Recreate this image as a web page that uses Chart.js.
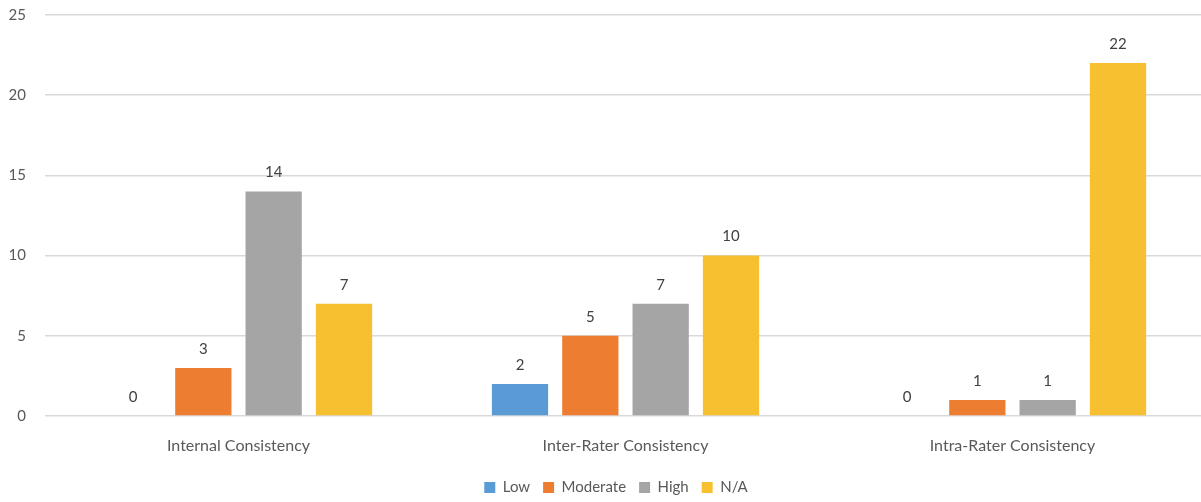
<!DOCTYPE html>
<html>
<head>
<meta charset="utf-8">
<script src="https://cdn.jsdelivr.net/npm/chart.js"></script>
<style>
    html, body { margin: 0; padding: 0; background: #ffffff; overflow: hidden; }
    #wrap { width: 1201px; height: 502px; overflow: hidden; }
    canvas { display: block; }
</style>
</head>
<body>
<div id="wrap"><canvas id="ratingChart" width="1207" height="505"></canvas></div>
<script>
    // Categories and counts per rating level
    const categories = ["Internal Consistency", "Inter-Rater Consistency", "Intra-Rater Consistency"];
    const lowCounts = [0, 2, 0];
    const moderateCounts = [3, 5, 1];
    const highCounts = [14, 7, 1];
    const naCounts = [7, 10, 22];
    const yTicks = [0, 5, 10, 15, 20, 25];

    const FONT = "Lato, 'Open Sans', sans-serif";
    const TEXT_GREY = "#595959";

    // Draw the count above each bar (zero bars get a label too)
    const valueLabels = {
        id: 'valueLabels',
        afterDatasetsDraw(chart) {
            const ctx = chart.ctx;
            ctx.save();
            ctx.font = "15px " + FONT;
            ctx.fillStyle = "#404040";
            ctx.textAlign = "center";
            ctx.textBaseline = "middle";
            chart.data.datasets.forEach((ds, i) => {
                const meta = chart.getDatasetMeta(i);
                meta.data.forEach((bar, j) => {
                    ctx.fillText(String(ds.data[j]), bar.x, bar.y - 19);
                });
            });
            ctx.restore();
        }
    };

    // Legend sits a little right of the canvas centre
    const legendShift = {
        id: 'legendShift',
        afterLayout(chart) {
            chart.legend.left += 9;
            chart.legend.right += 9;
        }
    };

    const ctx = document.getElementById("ratingChart").getContext("2d");
    new Chart(ctx, {
        type: 'bar',
        data: {
            labels: categories,
            datasets: [
                { label: 'Low', data: lowCounts, backgroundColor: '#5b9bd5' },
                { label: 'Moderate', data: moderateCounts, backgroundColor: '#ed7d31' },
                { label: 'High', data: highCounts, backgroundColor: '#a5a5a5' },
                { label: 'N/A', data: naCounts, backgroundColor: '#f6c030' }
            ]
        },
        options: {
            responsive: false,
            animation: false,
            categoryPercentage: 0.727,
            barPercentage: 0.8,
            layout: {
                padding: { top: 15, left: 8, right: 1, bottom: 0 }
            },
            plugins: {
                tooltip: { enabled: false },
                legend: {
                    position: 'bottom',
                    labels: {
                        boxWidth: 11,
                        boxHeight: 11,
                        padding: 13,
                        color: TEXT_GREY,
                        font: { family: FONT, size: 15 }
                    }
                }
            },
            scales: {
                x: {
                    grid: { display: false },
                    border: { display: false },
                    ticks: {
                        color: TEXT_GREY,
                        padding: 12,
                        font: { family: FONT, size: 16 }
                    },
                    afterFit: (scale) => { scale.height = 51; }
                },
                y: {
                    min: 0,
                    max: 25,
                    afterBuildTicks: (scale) => { scale.ticks = yTicks.map(v => ({ value: v })); },
                    grid: { color: '#d9d9d9', lineWidth: 1.5, drawTicks: true, tickLength: 16, tickColor: 'rgba(0,0,0,0)' },
                    border: { display: false },
                    ticks: {
                        color: TEXT_GREY,
                        padding: 3,
                        font: { family: FONT, size: 15 }
                    },
                    afterFit: (scale) => { scale.width = 37; }
                }
            }
        },
        plugins: [valueLabels, legendShift]
    });
</script>
</body>
</html>
